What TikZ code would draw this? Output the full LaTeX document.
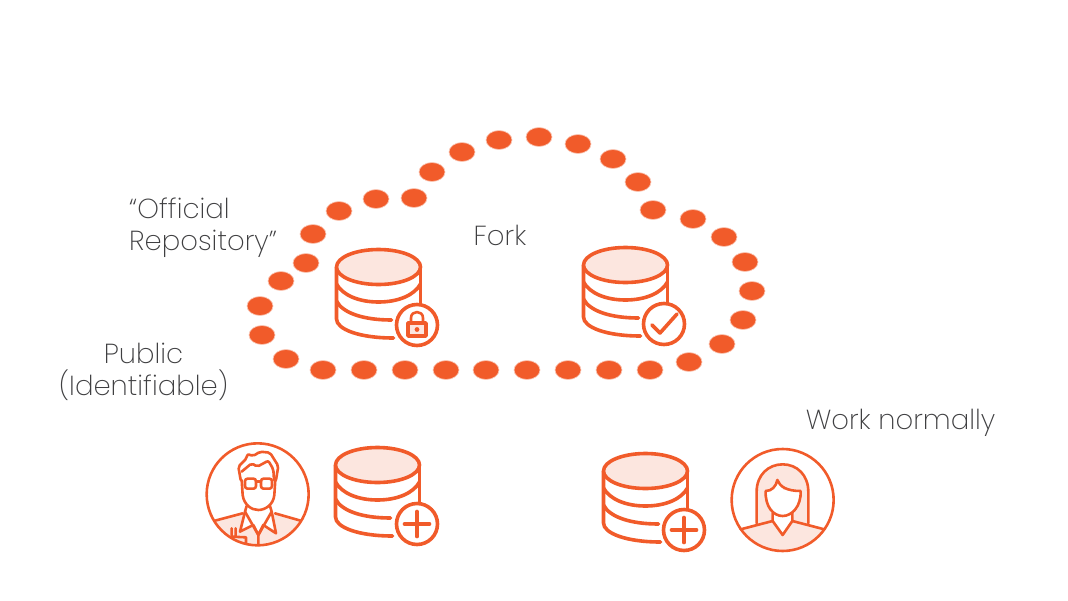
\documentclass[tikz,border=0pt]{standalone}
\usepackage{fontspec}
\setmainfont{Poppins}[UprightFont=* ExtraLight]
\definecolor{ps}{HTML}{F15B2A}
\definecolor{pale}{HTML}{FCE6DF}
\definecolor{txt}{HTML}{3F3F41}
\tikzset{
  labeltext/.style={text=txt,font=\fontsize{27.5}{32}\selectfont,inner sep=0pt,align=center},
  dot/.style={fill=ps,draw=ps!35,line width=0.7pt},
  ln/.style={draw=ps,line width=3.6pt,line join=round,line cap=round},
  thin ln/.style={draw=ps,line width=2.6pt,line join=round,line cap=round},
  zoomed/.style={shift={#1},x=0.3333pt,y=-0.3333pt},
  db/.pic={
    \path[ln,fill=white] (-42,0) -- (-42,52) .. controls (-42,62) and (-20,71) .. (15,71);
    \path[ln] (42,0) -- (42,41);
    \path[ln] (-42,17) .. controls (-36,28) and (-20,35) .. (0,35) .. controls (20,35) and (36,28) .. (42,17);
    \path[ln] (-42,34) .. controls (-36,46) and (-15,53) .. (13,53);
    \path[ln,fill=pale] (0,0) ellipse [x radius=42,y radius=17.5];
  },
  badge/.pic={\path[ln,fill=white] (0,0) circle [radius=20.5];},
  plus/.pic={\path[ln] (-12.5,0) -- (12.5,0) (0,-12.5) -- (0,12.5);},
  check/.pic={\path[ln] (-12,1) -- (-4,9) -- (13,-10);},
  padlock/.pic={
    \path[ln,fill=pale] (-9,-2) rectangle (9,11);
    \path[thin ln] (-6,-2) -- (-6,-7) .. controls (-6,-15) and (6,-15) .. (6,-7) -- (6,-2);
    \path[fill=ps] (0,4.5) circle [radius=2.4];
  }
}
\begin{document}
\begin{tikzpicture}[x=1pt,y=-1pt]
\useasboundingbox (0,0) rectangle (1068,600);
% dots
\foreach \p in {(539,137),(578,144),(613,159),(638,182),(653,210),(693,219),(724,237),(745,262),(752,291),(743,320),(722,344),(689,362),(650,370),(609,370),(568,370),(527,370),(486,370),(446,370),(405,370),(364,370),(323,370),(286,359),(262,335),(260,306),(281,281),(306,263),(313,234),(339,211),(376,199),(414,198),(432,172),(462,152),(499,140)}
  \path[dot] \p ellipse [x radius=13,y radius=9.5];
% text
\node[labeltext,align=left,anchor=west] (official) at (129,227.5) {“Official\\Repository”};
\node[labeltext] (fork) at (500,235) {Fork};
\node[labeltext] (public) at (143.5,372) {Public\\(Identifiable)};
\node[labeltext] (work) at (900.5,422.5) {Work normally};
% databases
\pic at (378.5,267) {db};
\pic at (417,325) {badge};
\pic at (417,325) {padlock};
\pic at (625.5,265) {db};
\pic at (664,324) {badge};
\pic at (664,324) {check};
\pic at (377.5,465) {db};
\pic at (417,524) {badge};
\pic at (417,524) {plus};
\pic at (645.5,471) {db};
\pic at (684,530) {badge};
\pic at (684,530) {plus};
% man
\begin{scope}[zoomed={(190,430)}]
  \begin{scope}
    \clip (203,193) circle [radius=153];
    \path[fill=pale] (75,272) -- (158,250) -- (205,315) -- (255,250) -- (332,272) -- (332,360) -- (75,360) -- cycle;
  \end{scope}
  \path[fill=white] (165,245) -- (150,305) -- (190,285) -- (205,315) -- (220,285) -- (258,310) -- (245,245) -- (205,240) -- cycle;
  \path[thin ln] (203,193) circle [radius=153];
  \path[thin ln] (75,272) -- (158,250) (255,250) -- (332,272);
  \path[thin ln] (170,228) -- (165,245) -- (150,305) -- (190,285) -- (205,315) -- (220,285) -- (258,310) -- (245,245) -- (240,228);
  \path[thin ln] (165,245) -- (205,315) -- (245,245) (205,315) -- (205,345);
  \path[thin ln] (125,295) -- (125,320) (137,295) -- (137,320) (125,320) -- (168,322) -- (168,340);
  \path[thin ln] (155,150) -- (158,195) .. controls (162,225) and (185,240) .. (205,240) .. controls (225,240) and (250,225) .. (253,195) -- (256,150);
  \path[thin ln,rounded corners=2pt] (152,150) -- (145,110) -- (170,85) -- (172,72) -- (190,78) -- (210,65) -- (240,68) -- (265,108) -- (258,150);
  \path[thin ln,rounded corners=2pt] (155,125) -- (185,100) -- (202,110) -- (235,92) -- (250,118) -- (252,150);
  \path[thin ln,rounded corners=2.5pt] (165,146) rectangle (198,176);
  \path[thin ln,rounded corners=2.5pt] (213,146) rectangle (246,176);
  \path[thin ln] (198,155) -- (213,155);
\end{scope}
% woman
\begin{scope}[zoomed={(590,435)}]
  \begin{scope}
    \clip (578,195) circle [radius=153];
    \path[fill=pale] (500,265) -- (500,170) .. controls (500,120) and (535,88) .. (578,88) .. controls (621,88) and (655,120) .. (655,170) -- (655,265) -- (703,283) -- (703,360) -- (452,360) -- (452,283) -- cycle;
  \end{scope}
  \path[fill=white] (527,168) -- (550,165) -- (562,135) -- (580,165) -- (632,168) -- (607,258) -- (578,300) -- (548,258) -- cycle;
  \path[thin ln] (578,195) circle [radius=153];
  \path[thin ln] (500,265) -- (500,170) .. controls (500,120) and (535,88) .. (578,88) .. controls (621,88) and (655,120) .. (655,170) -- (655,265);
  \path[thin ln] (527,168) .. controls (545,168) and (558,155) .. (562,135) .. controls (570,155) and (590,168) .. (632,168) .. controls (634,215) and (605,243) .. (578,243) .. controls (550,243) and (525,215) .. (527,168);
  \path[thin ln] (548,235) -- (548,258) -- (578,300) -- (607,258) -- (607,235);
  \path[thin ln] (452,283) -- (548,258) (607,258) -- (703,283);
\end{scope}
\end{tikzpicture}
\end{document}
